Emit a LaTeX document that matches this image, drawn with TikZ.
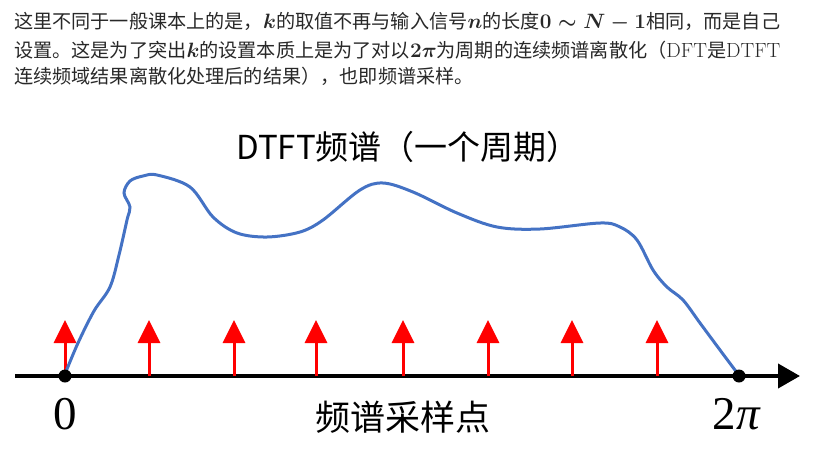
\documentclass[tikz,border=0pt]{standalone}
\usepackage{fontspec}
\usepackage{amsmath}
\newfontfamily\cjk{Noto Sans CJK SC}
\newfontfamily\timesf{Liberation Serif}
\usetikzlibrary{arrows.meta}
\definecolor{specblue}{RGB}{68,114,196}
\definecolor{paratext}{RGB}{40,40,40}
\newcommand\mth[1]{{\fontsize{20.74}{22}\selectfont\boldmath$#1$}}
\newcommand\rmt[1]{{\rmfamily\fontsize{20.5}{22}\selectfont #1}}
\begin{document}
\begin{tikzpicture}[x=1pt,y=-1pt,
  axis/.style={line width=4pt,-{Triangle[width=24pt,length=22pt]}},
  spike/.style={draw=red,line width=3pt,-{Triangle[width=22pt,length=23pt]},red},
  dotnode/.style={circle,fill=black,inner sep=0pt,minimum size=13pt},
  spec/.style={draw=specblue,line width=3pt},
  paraline/.style={anchor=west,inner sep=0pt,text=paratext,font=\cjk\fontsize{19.15}{22}\selectfont},
  biglabel/.style={font=\timesf\fontsize{47}{50}\selectfont,inner sep=0pt},
  cjklabel/.style={font=\cjk\fontsize{35}{36}\selectfont,inner sep=0pt},
  titlelabel/.style={font=\cjk\fontsize{33}{36}\selectfont,inner sep=0pt}]
\useasboundingbox (0,0) rectangle (814,450);
% paragraph
\node[paraline] (l1) at (14,22) {这里不同于一般课本上的是，\mth{k}的取值不再与输入信号\mth{n}的长度\mth{0\sim N-1}相同，而是自己};
\node[paraline] (l2) at (14,50) {设置。这是为了突出\mth{k}的设置本质上是为了对以\mth{2\pi}为周期的连续频谱离散化（\rmt{DFT}是\rmt{DTFT}};
\node[paraline] (l3) at (14,76) {连续频域结果离散化处理后的结果），也即频谱采样。};
% title
\node[titlelabel] (title) at (408,147) {DTFT频谱（一个周期）};
% axis
\coordinate (axL) at (15,376);
\coordinate (axR) at (800,376);
\draw[axis] (axL) -- (axR);
% sampling spikes
\foreach \i/\x in {1/65,2/149,3/234,4/316,5/403,6/488,7/572,8/657}{
  \coordinate (b\i) at (\x,376);
  \coordinate (t\i) at (\x,320);
  \draw[spike] (b\i) -- (t\i);
}
% spectrum curve
\draw[spec] plot[smooth,tension=0.55] coordinates {
 (65,374) (78,343) (94,311) (110,287) (119,255) (127,220) (130,207) (124,193)
 (130,181) (143,176) (157,175) (190,187) (213,217) (237,233) (267,237) (300,232)
 (323,220) (360,190) (383,183) (413,192) (457,213) (497,227) (540,229) (600,223)
 (620,227) (637,240) (653,270) (667,287) (683,300) (700,323) (720,350) (738,374)};
% end dots
\node[dotnode] (d0) at (65,376) {};
\node[dotnode] (d2) at (739,376) {};
% labels
\node[biglabel] (zero) at (65,414) {0};
\node[biglabel] (twopi) at (737,414) {2\textit{π}};
\node[cjklabel] (samp) at (403,417) {频谱采样点};
\end{tikzpicture}
\end{document}
